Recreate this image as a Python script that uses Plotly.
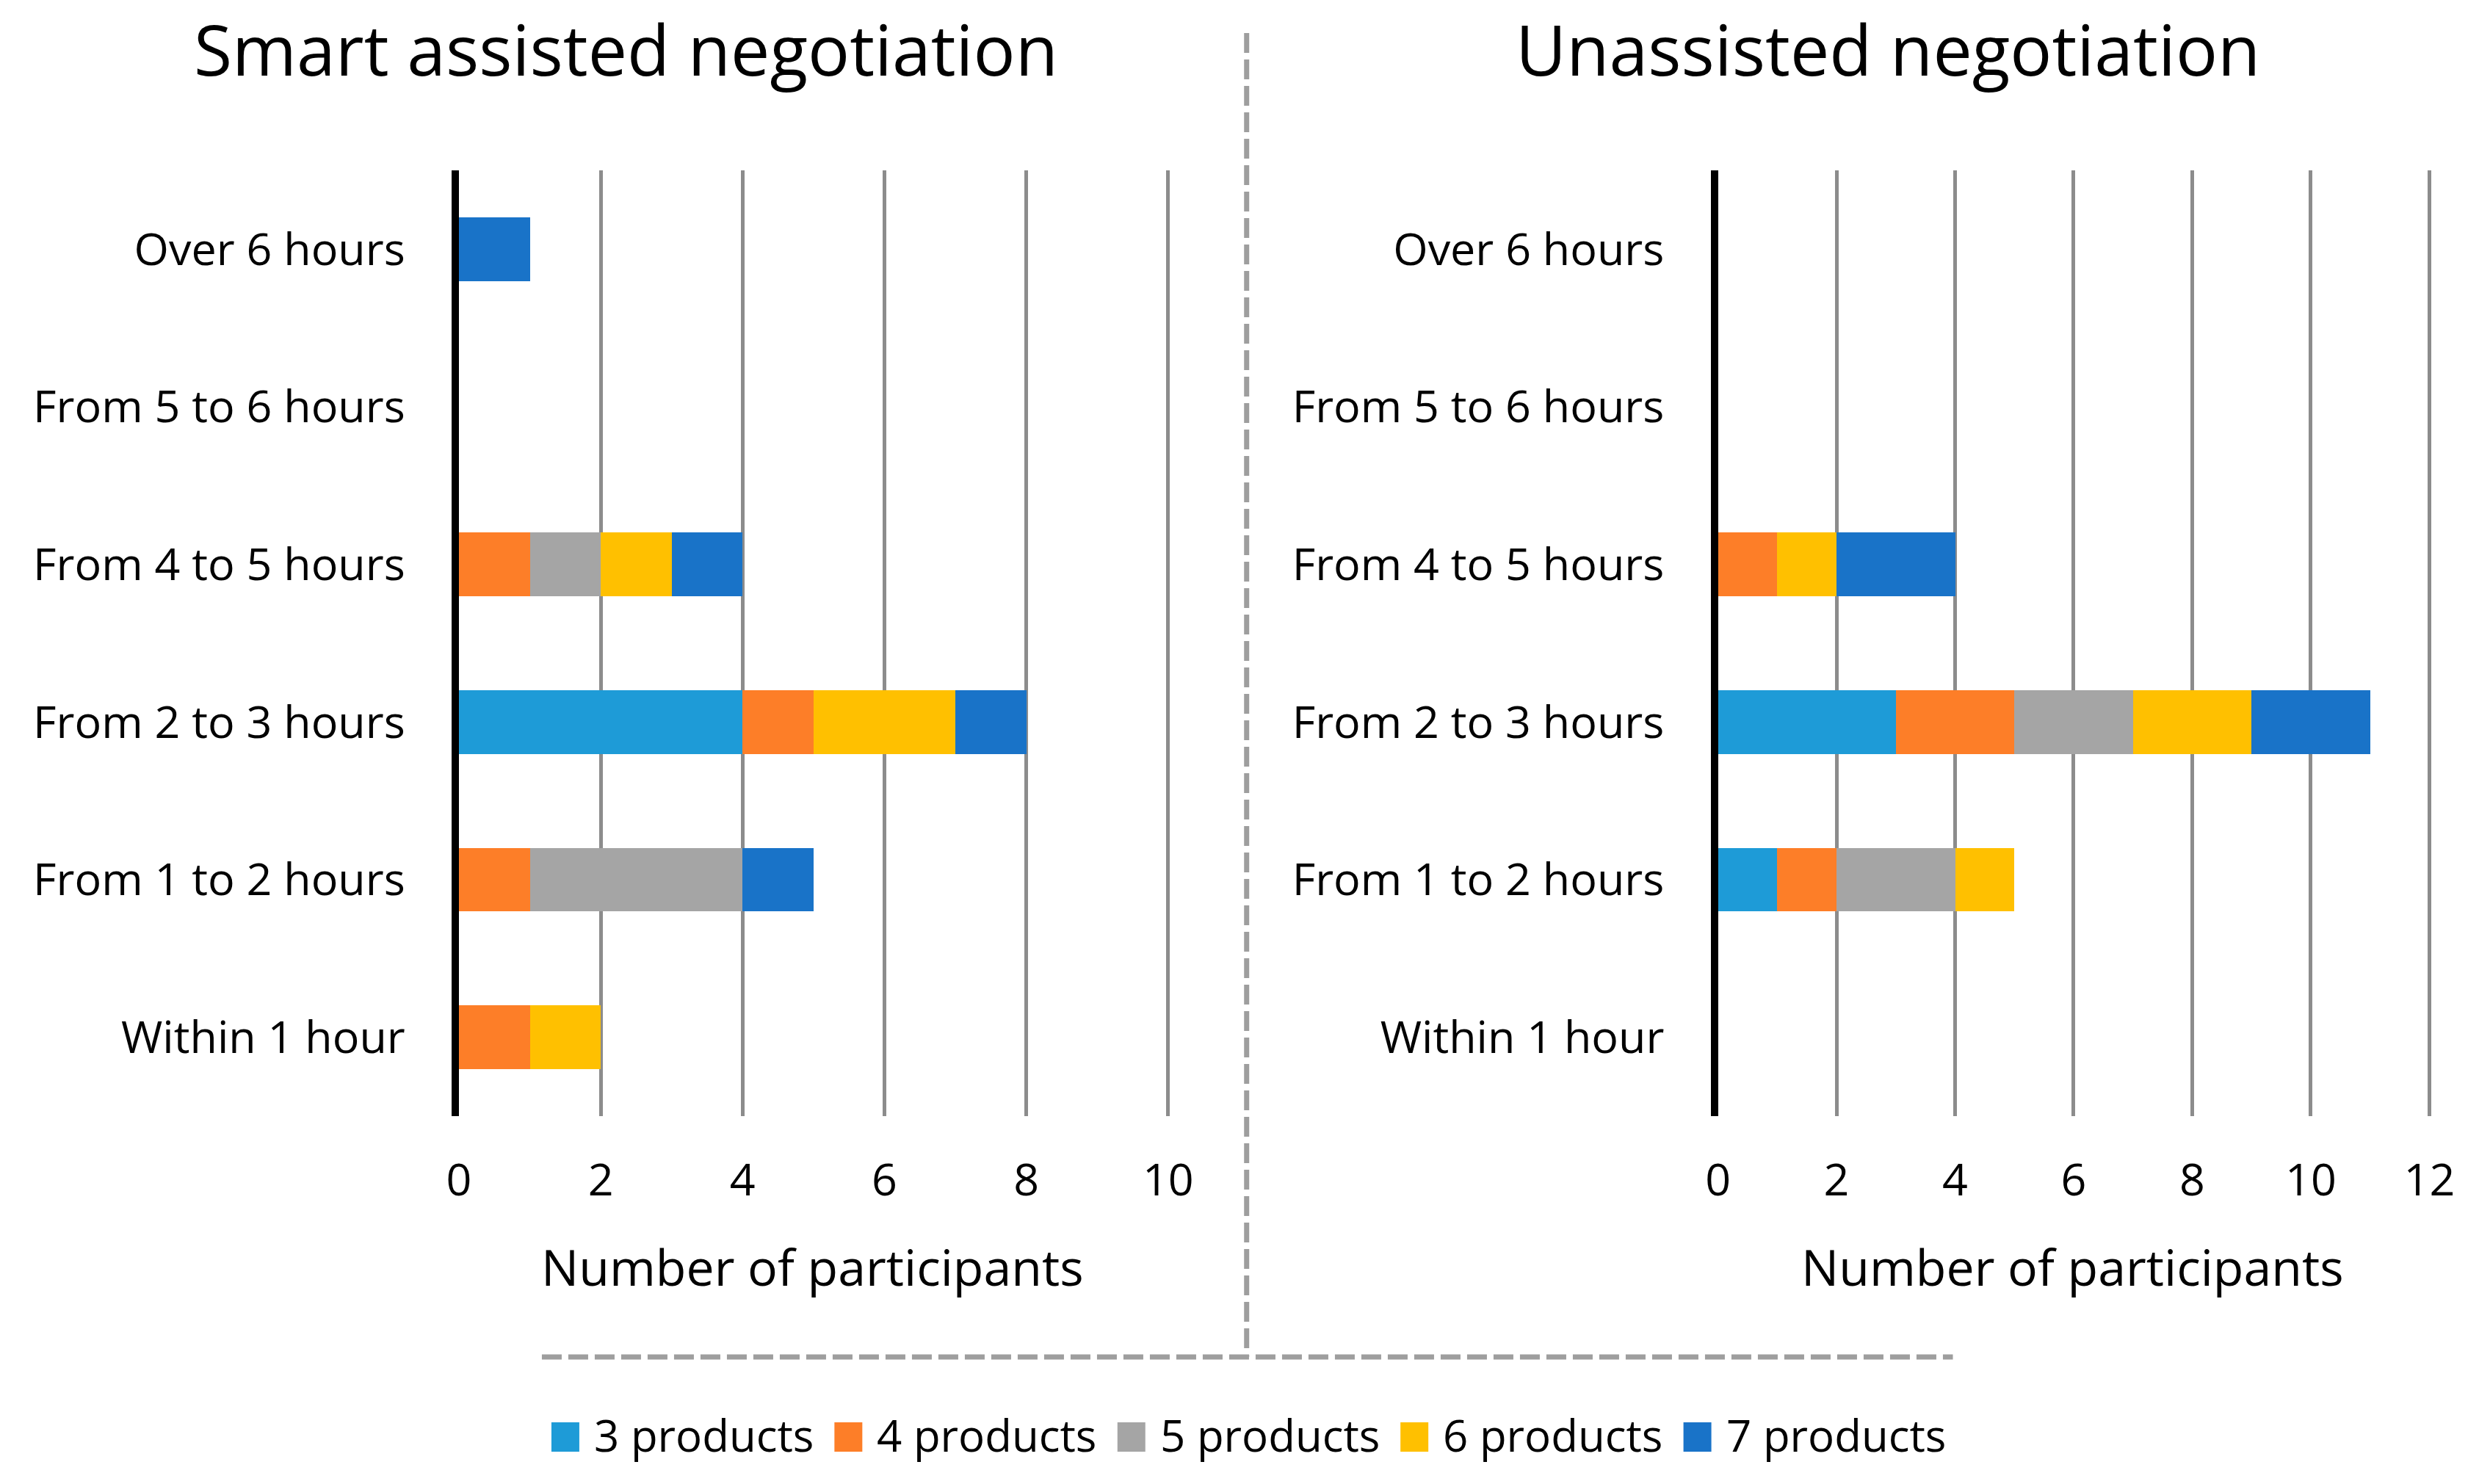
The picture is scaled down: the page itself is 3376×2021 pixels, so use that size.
import plotly.graph_objects as go

# ---------------- data ----------------
categories = ["Within 1 hour", "From 1 to 2 hours", "From 2 to 3 hours",
              "From 4 to 5 hours", "From 5 to 6 hours", "Over 6 hours"]
series_names = ["3 products", "4 products", "5 products", "6 products", "7 products"]
series_colors = ["#1E9BD7", "#FD7E28", "#A5A5A5", "#FFC000", "#1973C8"]

smart_3 = [0, 0, 4, 0, 0, 0]
smart_4 = [1, 1, 1, 1, 0, 0]
smart_5 = [0, 3, 0, 1, 0, 0]
smart_6 = [1, 0, 2, 1, 0, 0]
smart_7 = [0, 1, 1, 1, 0, 1]

unassisted_3 = [0, 1, 3, 0, 0, 0]
unassisted_4 = [0, 1, 2, 1, 0, 0]
unassisted_5 = [0, 2, 2, 0, 0, 0]
unassisted_6 = [0, 1, 2, 1, 0, 0]
unassisted_7 = [0, 0, 2, 2, 0, 0]

panel_titles = ["Smart assisted negotiation", "Unassisted negotiation"]
axis_title = "Number of participants"
x_max = [10, 12]

# ---------------- layout helpers ----------------
W, H = 3376, 2021
FONT = "Open Sans"

# horizontal calibration of the rendered page (measured from a test render)
CAL_OFF, CAL_SCALE = 15.9, 0.986


def fx(px):
    """target pixel (reference picture) -> paper x"""
    return ((px - CAL_OFF) / CAL_SCALE) / W


def fy(py):
    return 1 - py / H


smart = [smart_3, smart_4, smart_5, smart_6, smart_7]
unassisted = [unassisted_3, unassisted_4, unassisted_5, unassisted_6, unassisted_7]

fig = go.Figure()
for name, color, vals in zip(series_names, series_colors, smart):
    fig.add_trace(go.Bar(y=categories, x=vals, name=name, orientation="h",
                         marker=dict(color=color, line=dict(width=0)),
                         xaxis="x", yaxis="y", showlegend=False))
for name, color, vals in zip(series_names, series_colors, unassisted):
    fig.add_trace(go.Bar(y=categories, x=vals, name=name, orientation="h",
                         marker=dict(color=color, line=dict(width=0)),
                         xaxis="x2", yaxis="y2", showlegend=False))

grid_color = "#8C8C8C"
xcommon = dict(showgrid=True, gridcolor=grid_color, gridwidth=5, zeroline=False,
               showline=False, tick0=0, dtick=2, ticks="",
               tickfont=dict(family=FONT, size=61, color="black"),
               ticklabelstandoff=46, fixedrange=True)
ycommon = dict(type="category", categoryorder="array", categoryarray=categories,
               showgrid=False, zeroline=False, showline=True, linecolor="black",
               linewidth=10, ticks="", range=[-0.5, 5.5],
               tickfont=dict(family=FONT, size=61, color="black"),
               ticklabelstandoff=51, fixedrange=True)

# plot areas: pixel of x=0 and of the last tick, extended a hair so the last gridline shows
pad = 0.05
left_x0, left_xend = 624, 1590
right_x0, right_xend = 2339, 3308
left_end = left_x0 + (left_xend - left_x0) * (x_max[0] + pad) / x_max[0]
right_end = right_x0 + (right_xend - right_x0) * (x_max[1] + pad) / x_max[1]

y_dom = [fy(1520), fy(232)]
fig.update_layout(
    width=W, height=H,
    margin=dict(l=0, r=0, t=0, b=0),
    paper_bgcolor="white", plot_bgcolor="white",
    barmode="stack", bargap=0.595,
    font=dict(family=FONT, color="black"),
    xaxis=dict(domain=[fx(left_x0), fx(left_end)], range=[0, x_max[0] + pad],
               anchor="y", **xcommon),
    yaxis=dict(domain=y_dom, anchor="x", **ycommon),
    xaxis2=dict(domain=[fx(right_x0), fx(right_end)], range=[0, x_max[1] + pad],
                anchor="y2", **xcommon),
    yaxis2=dict(domain=y_dom, anchor="x2", **ycommon),
)

annotations = []
# panel titles
for txt, cx in zip(panel_titles, [852, 2570]):
    annotations.append(dict(text=txt, x=fx(cx), y=fy(66), xref="paper", yref="paper",
                            xanchor="center", yanchor="middle", showarrow=False,
                            font=dict(family=FONT, size=95, color="black")))
# axis titles
for cx in [1106, 2822]:
    annotations.append(dict(text=axis_title, x=fx(cx), y=fy(1724), xref="paper", yref="paper",
                            xanchor="center", yanchor="middle", showarrow=False,
                            font=dict(family=FONT, size=68, color="black")))

shapes = []
# dashed separators
dash_style = dict(color="#9E9E9E", width=7, dash="27px,9px")
shapes.append(dict(type="line", xref="paper", yref="paper", x0=fx(1697), x1=fx(1697),
                   y0=fy(45), y1=fy(1848), line=dash_style))
shapes.append(dict(type="line", xref="paper", yref="paper", x0=fx(737), x1=fx(2659),
                   y0=fy(1848), y1=fy(1848), line=dash_style))

# custom legend (large square swatches like the original)
leg_x0 = 750
leg_step = 385.5
for i, (name, color) in enumerate(zip(series_names, series_colors)):
    mx = leg_x0 + i * leg_step
    shapes.append(dict(type="rect", xref="paper", yref="paper",
                       x0=fx(mx), x1=fx(mx + 38), y0=fy(1977), y1=fy(1937),
                       fillcolor=color, line=dict(width=0)))
    annotations.append(dict(text=name, x=fx(mx + 56), y=fy(1954), xref="paper", yref="paper",
                            xanchor="left", yanchor="middle", showarrow=False,
                            font=dict(family=FONT, size=60, color="black")))

fig.update_layout(annotations=annotations, shapes=shapes)
fig.write_html("out.html", config={"displayModeBar": False},
               post_script="document.body.style.margin='0px';"
                           "document.documentElement.style.overflow='hidden';")
